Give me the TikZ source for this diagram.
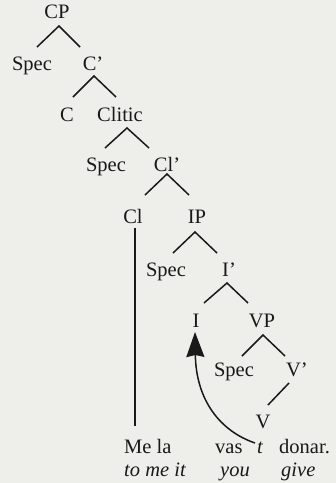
\documentclass[tikz,border=0pt]{standalone}
\usepackage{fontspec}
\setmainfont{Liberation Serif}
\usetikzlibrary{arrows.meta}
\definecolor{paper}{RGB}{238,238,235}
\definecolor{ink}{RGB}{25,25,25}
\begin{document}
\begin{tikzpicture}[x=1pt,y=-1pt,
  lab/.style={anchor=base,inner sep=0pt,text=ink,font=\fontsize{20.5}{24}\selectfont},
  wrd/.style={anchor=base west,inner sep=0pt,text=ink,font=\fontsize{20.5}{24}\selectfont},
  gls/.style={anchor=base west,inner sep=0pt,text=ink,font=\fontsize{20.5}{24}\selectfont\itshape},
  br/.style={line width=1.5pt,draw=ink},
  mv/.style={line width=1.5pt,draw=ink,fill=ink,-{Stealth[length=25pt,width=18pt,inset=2pt]}}
]
\fill[paper] (0,0) rectangle (336,483);
\useasboundingbox (0,0) rectangle (336,483);
% labels
\node[lab] (CP) at (57,18.5) {CP};
\node[lab] (spec1) at (32,70) {Spec};
\node[lab] (Cbar) at (93,70) {C'};
\node[lab] (C) at (67,121) {C};
\node[lab] (Clitic) at (120,121) {Clitic};
\node[lab] (spec2) at (106,171) {Spec};
\node[lab] (Clbar) at (167,171) {Cl'};
\node[lab] (Cl) at (133,223) {Cl};
\node[lab] (IP) at (197,223) {IP};
\node[lab] (spec3) at (166,276) {Spec};
\node[lab] (Ibar) at (229,276) {I'};
\node[lab] (I) at (196,327) {I};
\node[lab] (VP) at (262,327) {VP};
\node[lab] (spec4) at (234,376) {Spec};
\node[lab] (Vbar) at (297,376) {V'};
\node[lab] (V) at (263,428) {V};
% words
\node[wrd] (mela) at (124,453) {Me la};
\node[wrd] (vas) at (215,453) {vas};
\node[gls] (t) at (257,453) {t};
\node[wrd] (donar) at (279,453) {donar.};
\node[gls] (tomeit) at (124,476) {to me it};
\node[gls] (you) at (220,476) {you};
\node[gls] (give) at (281,476) {give};
% branch points
\coordinate (cpA) at (59,26);  \coordinate (cpL) at (37,47);  \coordinate (cpR) at (80,47);
\coordinate (cbA) at (94,76);  \coordinate (cbL) at (73,97);  \coordinate (cbR) at (116,97);
\coordinate (clA) at (127,128); \coordinate (clL) at (105,148); \coordinate (clR) at (149,148);
\coordinate (lbA) at (167,174); \coordinate (lbL) at (145,195); \coordinate (lbR) at (189,195);
\coordinate (ipA) at (195,232); \coordinate (ipL) at (173,253); \coordinate (ipR) at (217,253);
\coordinate (ibA) at (227,283); \coordinate (ibL) at (204,303); \coordinate (ibR) at (248,303);
\coordinate (vpA) at (263,335); \coordinate (vpL) at (242,356); \coordinate (vpR) at (285,356);
\coordinate (vbT) at (289,383); \coordinate (vbB) at (268,405);
\coordinate (clT) at (135,228); \coordinate (clB) at (135,426);
\coordinate (tS) at (255,443); \coordinate (iT) at (195,332);
% branches
\draw[br] (cpL) -- (cpA) -- (cpR);
\draw[br] (cbL) -- (cbA) -- (cbR);
\draw[br] (clL) -- (clA) -- (clR);
\draw[br] (lbL) -- (lbA) -- (lbR);
\draw[br] (ipL) -- (ipA) -- (ipR);
\draw[br] (ibL) -- (ibA) -- (ibR);
\draw[br] (vpL) -- (vpA) -- (vpR);
\draw[br] (vbT) -- (vbB);
\draw[br] (clT) -- (clB);
% movement arrow
\draw[br,-{Stealth[length=25pt,width=18pt,inset=2pt]}] (tS) .. controls (220,431) and (196,400) .. (iT);
\end{tikzpicture}
\end{document}
